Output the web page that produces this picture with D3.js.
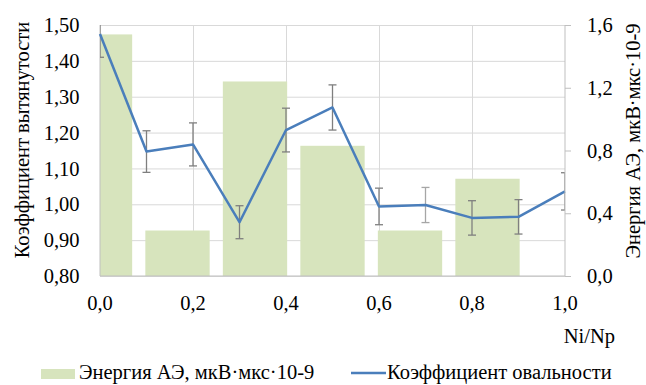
<!DOCTYPE html>
<html>
<head>
<meta charset="utf-8">
<script src="https://d3js.org/d3.v7.min.js"></script>
</head>
<body style="margin:0">
<svg id="chart" width="646" height="385" font-family="Liberation Serif" font-size="20.5"></svg>
<script>
// energy bars (right axis), one per slot of 1/6
var barSlots = [0, 1, 2, 3, 4, 5];
var energy = [1.54, 0.29, 1.24, 0.83, 0.29, 0.62];

// ovality coefficient line (left axis)
var ratio = [0.0, 0.1, 0.2, 0.3, 0.4, 0.5, 0.6, 0.7, 0.8, 0.9, 1.0];
var coef = [1.475, 1.147, 1.167, 0.95, 1.207, 1.27, 0.994, 0.998, 0.962, 0.965, 1.036];
var coefErr = [0.065, 0.058, 0.06, 0.046, 0.061, 0.063, 0.051, 0.049, 0.048, 0.048, 0.052];

var leftTicks = [0.8, 0.9, 1.0, 1.1, 1.2, 1.3, 1.4, 1.5];
var rightTicks = [0, 0.4, 0.8, 1.2, 1.6];
var xTicks = [0, 0.2, 0.4, 0.6, 0.8, 1.0];

var margin = {top: 25, right: 81, bottom: 109, left: 100};
var width = 646 - margin.left - margin.right;
var height = 385 - margin.top - margin.bottom;

var fmt1 = function(d) { return d3.format(".1f")(d).replace(".", ","); };
var fmt2 = function(d) { return d3.format(".2f")(d).replace(".", ","); };

var x = d3.scaleLinear().domain([0, 1]).range([0, width]);
var xBar = d3.scaleLinear().domain([0, 6]).range([0, width]);
var yL = d3.scaleLinear().domain([0.8, 1.5]).range([height, 0]);
var yR = d3.scaleLinear().domain([0, 1.6]).range([height, 0]);

var svg = d3.select("#chart");
var g = svg.append("g").attr("transform", "translate(" + margin.left + "," + margin.top + ")");

g.append("clipPath").attr("id", "plot")
  .append("rect").attr("width", width).attr("height", height);

// grid
g.append("g")
    .call(d3.axisLeft(yL).tickValues(leftTicks).tickSize(-width).tickFormat(""))
    .call(function(s) { s.select(".domain").remove(); })
  .selectAll("line").attr("stroke", "#d9d9d9");

g.append("g")
    .attr("transform", "translate(0," + height + ")")
    .call(d3.axisBottom(x).tickValues([0.2, 0.4, 0.6, 0.8]).tickSize(-height).tickFormat(""))
    .call(function(s) { s.select(".domain").remove(); })
  .selectAll("line").attr("stroke", "#d9d9d9");

// bars
var bw = (xBar(1) - xBar(0)) * 0.83;
g.append("g").attr("clip-path", "url(#plot)")
  .selectAll("rect").data(barSlots).join("rect")
    .attr("x", function(d) { return xBar(d) - bw / 2; })
    .attr("y", function(d, i) { return yR(energy[i]); })
    .attr("width", bw)
    .attr("height", function(d, i) { return height - yR(energy[i]); })
    .attr("fill", "#d7e4bd");

// axes lines
g.append("line").attr("x1", 0).attr("x2", 0).attr("y1", 0).attr("y2", height).attr("stroke", "#bfbfbf");
g.append("line").attr("x1", 0).attr("x2", width).attr("y1", height).attr("y2", height).attr("stroke", "#bfbfbf");

// error bars
var eb = g.append("g").attr("clip-path", "url(#plot)")
  .selectAll("g").data(ratio).join("g")
    .attr("stroke", function(d, i) { return i === 7 ? "#a6a6a6" : "#7f7f7f"; })
    .attr("stroke-width", 1.3);
eb.append("line")
    .attr("x1", function(d) { return x(d); })
    .attr("x2", function(d) { return x(d); })
    .attr("y1", function(d, i) { return yL(coef[i] + coefErr[i]); })
    .attr("y2", function(d, i) { return yL(coef[i] - coefErr[i]); });
eb.selectAll("line.cap").data(function(d, i) {
    return [[d, coef[i] + coefErr[i]], [d, coef[i] - coefErr[i]]];
  }).join("line").attr("class", "cap")
    .attr("x1", function(d) { return x(d[0]) - 4; })
    .attr("x2", function(d) { return x(d[0]) + 4; })
    .attr("y1", function(d) { return yL(d[1]); })
    .attr("y2", function(d) { return yL(d[1]); });

// line
g.append("path")
    .datum(ratio)
    .attr("fill", "none")
    .attr("stroke", "#4a7ebb")
    .attr("stroke-width", 2.5)
    .attr("stroke-linejoin", "round")
    .attr("d", d3.line().x(function(d) { return x(d); }).y(function(d, i) { return yL(coef[i]); }));

// left axis labels
g.append("g")
  .selectAll("text").data(leftTicks).join("text")
    .attr("x", -20.5)
    .attr("y", function(d) { return yL(d); })
    .attr("dy", "0.35em")
    .attr("text-anchor", "end")
    .text(fmt2);

// right axis
var ra = g.append("g")
    .attr("transform", "translate(" + width + ",0)")
    .call(d3.axisRight(yR).tickValues(rightTicks).tickSize(6).tickPadding(16).tickFormat(fmt1))
    .attr("font-family", "Liberation Serif")
    .attr("font-size", 20.5);
ra.select(".domain").attr("stroke", "#bfbfbf").attr("d", "M0,0V" + height);
ra.selectAll(".tick line").attr("stroke", "#bfbfbf");
ra.selectAll("text").attr("fill", "#000");

// bottom labels
g.append("g")
  .selectAll("text").data(xTicks).join("text")
    .attr("x", function(d) { return x(d); })
    .attr("y", height + 33.5)
    .attr("text-anchor", "middle")
    .text(fmt1);

// titles
svg.append("text")
    .attr("transform", "translate(29,140) rotate(-90)")
    .attr("text-anchor", "middle")
    .text("Коэффициент вытянутости");

svg.append("text")
    .attr("transform", "translate(640,141) rotate(-90)")
    .attr("text-anchor", "middle")
    .text("Энергия АЭ, мкВ·мкс·10-9");

svg.append("text")
    .attr("x", 615)
    .attr("y", 343)
    .attr("text-anchor", "end")
    .text("Ni/Np");

// legend
var lg = svg.append("g");
lg.append("rect").attr("x", 41).attr("y", 369).attr("width", 34).attr("height", 10).attr("fill", "#d7e4bd");
lg.append("text").attr("x", 79).attr("y", 378.5).text("Энергия АЭ, мкВ·мкс·10-9");
lg.append("line").attr("x1", 351).attr("x2", 386).attr("y1", 373).attr("y2", 373)
    .attr("stroke", "#4a7ebb").attr("stroke-width", 2.5);
lg.append("text").attr("x", 387).attr("y", 378.5).text("Коэффициент овальности");
</script>
</body>
</html>
